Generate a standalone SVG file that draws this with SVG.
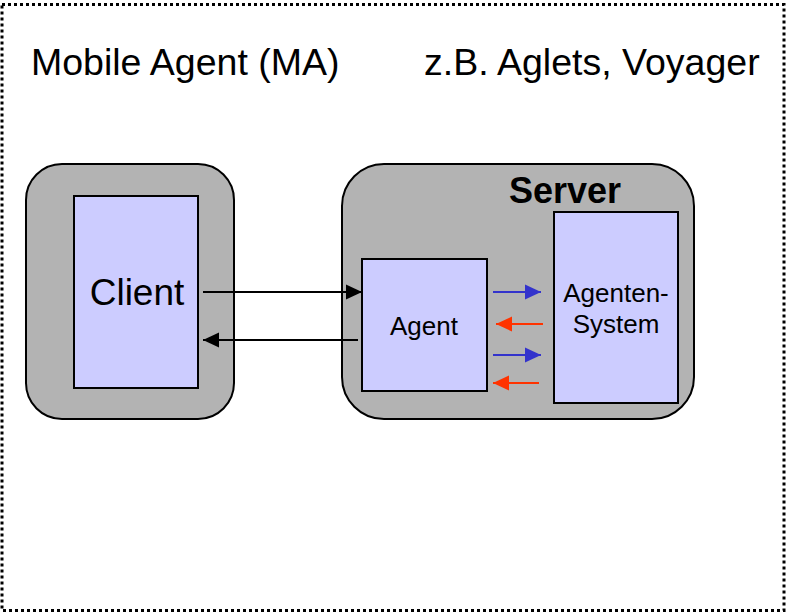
<svg xmlns="http://www.w3.org/2000/svg" width="786" height="612" viewBox="0 0 786 612">
  <style>
    .frame { fill: none; stroke: #000; stroke-width: 3; stroke-dasharray: 3 3; }
    .host { fill: #b3b3b3; stroke: #000; stroke-width: 2; }
    .box { fill: #ccccff; stroke: #000; stroke-width: 2; }
    text { font-family: "Liberation Sans", Arial, sans-serif; fill: #000; }
    .title { font-size: 37.5px; }
    .big { font-size: 37px; text-anchor: middle; }
    .bold { font-size: 36px; font-weight: bold; text-anchor: middle; }
    .small { font-size: 26px; text-anchor: middle; }
    .link { fill: none; stroke: #000; stroke-width: 2; }
    .blue { fill: none; stroke: #3333cc; stroke-width: 2; }
    .red { fill: none; stroke: #ff3300; stroke-width: 2; }
  </style>
  <defs>
    <marker id="head-black" markerUnits="userSpaceOnUse" markerWidth="16" markerHeight="16" viewBox="0 0 16 16" refX="16" refY="8" orient="auto">
      <path d="M0,0.5 L16,8 L0,15.5 Z" fill="#000"/>
    </marker>
    <marker id="head-blue" markerUnits="userSpaceOnUse" markerWidth="16" markerHeight="16" viewBox="0 0 16 16" refX="16" refY="8" orient="auto">
      <path d="M0,0.5 L16,8 L0,15.5 Z" fill="#3333cc"/>
    </marker>
    <marker id="head-red" markerUnits="userSpaceOnUse" markerWidth="16" markerHeight="16" viewBox="0 0 16 16" refX="16" refY="8" orient="auto">
      <path d="M0,0.5 L16,8 L0,15.5 Z" fill="#ff3300"/>
    </marker>
  </defs>

  <rect class="frame" x="2" y="4.5" width="782" height="606"/>

  <g id="heading">
    <text class="title" x="31" y="75">Mobile Agent (MA)</text>
    <text class="title" x="424" y="75">z.B. Aglets, Voyager</text>
  </g>

  <g id="client-host">
    <rect class="host" x="26" y="164" width="208" height="255" rx="36" ry="36"/>
  </g>
  <g id="client">
    <rect class="box" x="74" y="196" width="124" height="192"/>
    <text class="big" x="137" y="305">Client</text>
  </g>

  <g id="server">
    <rect class="host" x="342" y="164" width="352" height="255" rx="42" ry="42"/>
    <text class="bold" x="565" y="203">Server</text>
  </g>
  <g id="agent">
    <rect class="box" x="362" y="259" width="125" height="132"/>
    <text class="small" x="424" y="335">Agent</text>
  </g>
  <g id="agenten-system">
    <rect class="box" x="554" y="212" width="124" height="191"/>
    <text class="small" x="616" y="302">Agenten-</text>
    <text class="small" x="616" y="333">System</text>
  </g>

  <g id="connectors">
    <line class="link" x1="203" y1="292" x2="362" y2="292" marker-end="url(#head-black)"/>
    <line class="link" x1="358" y1="340" x2="203" y2="340" marker-end="url(#head-black)"/>
    <line class="blue" x1="493" y1="292" x2="541" y2="292" marker-end="url(#head-blue)"/>
    <line class="red" x1="543" y1="324" x2="496" y2="324" marker-end="url(#head-red)"/>
    <line class="blue" x1="493" y1="355" x2="541" y2="355" marker-end="url(#head-blue)"/>
    <line class="red" x1="539" y1="383" x2="493" y2="383" marker-end="url(#head-red)"/>
  </g>
</svg>
